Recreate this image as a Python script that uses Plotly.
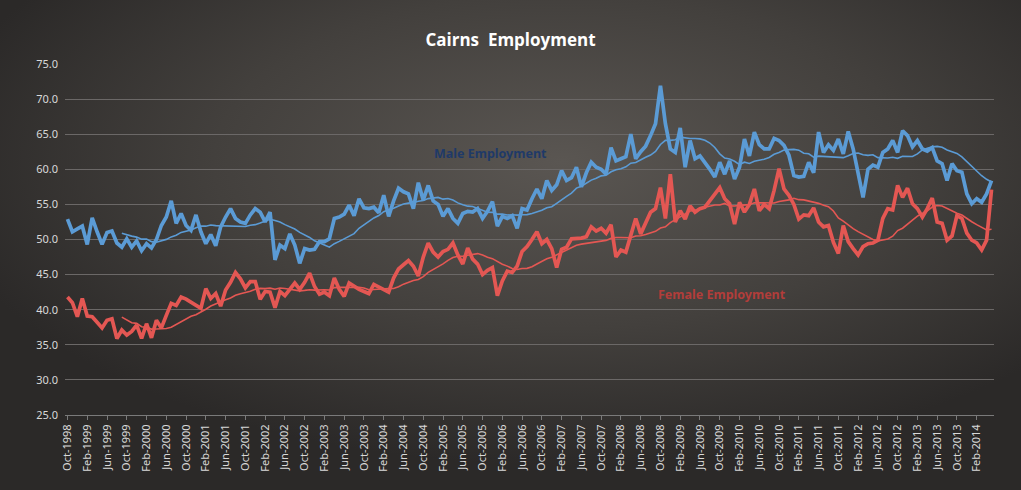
import urllib.parse

import pandas as pd
import plotly.graph_objs as go

# monthly categories, Oct-1998 .. May-2014
months = list(pd.date_range("1998-10-01", periods=188, freq="MS").strftime("%b-%Y"))
tick_labels = months[::4]

# employment values
male = [
    52.9, 51.1, 51.5, 51.9, 49.3, 53.1, 51.1, 49.3, 51.0, 51.2,
    49.5, 48.9, 50.1, 48.9, 49.8, 48.4, 49.4, 48.8, 50.0, 52.0,
    53.2, 55.5, 52.3, 53.7, 52.0, 51.3, 53.5, 51.1, 49.4, 50.7,
    49.1, 51.8, 53.2, 54.4, 53.0, 52.5, 52.3, 53.5, 54.4, 53.9,
    52.5, 53.9, 47.1, 49.2, 48.7, 50.8, 49.2, 46.6, 48.7, 48.5,
    48.6, 49.7, 49.7, 50.1, 53.0, 53.2, 53.6, 54.9, 53.4, 55.8,
    54.5, 54.4, 54.6, 53.8, 56.3, 53.3, 55.5, 57.3, 56.8, 56.5,
    54.4, 58.1, 55.6, 57.7, 55.5, 55.0, 53.3, 54.4, 53.0, 52.3,
    53.7, 54.0, 53.9, 54.4, 53.0, 54.0, 55.4, 51.9, 53.3, 53.0,
    53.4, 51.6, 54.4, 54.2, 55.8, 57.2, 55.8, 58.4, 57.0, 57.8,
    59.8, 58.4, 58.8, 60.3, 57.5, 59.5, 61.0, 60.3, 60.0, 59.3,
    63.1, 61.2, 61.5, 61.8, 65.0, 61.5, 62.5, 63.3, 64.8, 66.5,
    71.9, 66.5, 62.9, 62.4, 65.9, 60.3, 64.1, 61.5, 61.9, 61.0,
    60.0, 58.9, 61.0, 59.3, 61.2, 58.6, 60.3, 64.3, 61.9, 65.3,
    63.5, 62.9, 62.9, 64.4, 64.1, 63.4, 62.0, 59.1, 58.9, 59.0,
    61.0, 59.5, 65.3, 62.4, 63.5, 62.7, 64.3, 62.2, 65.4, 62.9,
    59.6, 56.0, 60.0, 60.6, 60.3, 62.4, 62.9, 64.1, 62.4, 65.5,
    64.8, 63.2, 64.1, 62.9, 62.6, 63.1, 61.2, 60.8, 58.4, 60.8,
    59.8, 59.6, 56.5, 55.1, 55.8, 55.3, 56.5, 58.4,
]
female = [
    41.8, 41.0, 39.0, 41.6, 39.1, 39.0, 38.2, 37.4, 38.5, 38.7,
    35.9, 37.1, 36.4, 36.9, 37.8, 35.9, 38.0, 36.0, 38.5, 37.4,
    39.2, 40.9, 40.6, 41.8, 41.5, 41.1, 40.6, 40.2, 43.0, 41.6,
    42.3, 40.5, 42.8, 43.9, 45.3, 44.4, 43.1, 44.0, 44.0, 41.5,
    42.6, 42.5, 40.3, 42.6, 42.0, 42.9, 43.8, 42.9, 43.9, 45.2,
    43.3, 42.2, 42.5, 42.0, 44.5, 42.9, 41.9, 43.8, 43.3, 42.9,
    42.6, 42.3, 43.6, 43.2, 42.8, 42.5, 44.5, 45.8, 46.4, 47.0,
    46.2, 44.8, 47.5, 49.5, 48.2, 47.5, 48.3, 48.6, 49.5, 47.8,
    46.5, 48.8, 47.2, 46.5, 45.0, 45.6, 46.0, 42.0, 44.1, 45.5,
    45.3, 46.2, 48.3, 49.0, 50.0, 51.1, 49.4, 50.0, 48.7, 46.0,
    48.6, 48.9, 50.1, 50.1, 50.2, 50.4, 51.8, 51.2, 51.6, 50.9,
    52.1, 47.5, 48.5, 48.2, 50.5, 53.0, 50.8, 52.5, 53.9, 54.4,
    57.4, 53.0, 59.3, 52.5, 54.1, 52.9, 54.8, 53.9, 54.4, 54.6,
    55.5, 56.5, 57.4, 55.8, 55.1, 52.2, 55.3, 53.9, 55.0, 57.2,
    54.1, 55.0, 54.4, 57.0, 60.1, 57.2, 56.3, 55.0, 52.9, 53.5,
    53.4, 54.5, 52.5, 51.8, 52.0, 49.6, 48.0, 52.0, 49.7, 48.7,
    47.8, 49.0, 49.4, 49.5, 49.9, 53.0, 54.4, 54.2, 57.7, 56.0,
    57.3, 55.1, 54.4, 53.2, 54.4, 55.9, 52.5, 52.3, 49.9, 50.5,
    53.4, 53.0, 50.9, 49.9, 49.5, 48.5, 49.9, 57.1,
]

# 12 month moving average trendlines
male_ma = pd.Series(male).rolling(12).mean()
female_ma = pd.Series(female).rolling(12).mean()

blue = "#5b9bd5"
red = "#e45753"

fig = go.Figure()
fig.add_trace(go.Scatter(x=months, y=male, mode="lines", line=dict(color=blue, width=3.7)))
fig.add_trace(go.Scatter(x=months, y=male_ma, mode="lines", line=dict(color=blue, width=1.6)))
fig.add_trace(go.Scatter(x=months, y=female, mode="lines", line=dict(color=red, width=3.7)))
fig.add_trace(go.Scatter(x=months, y=female_ma, mode="lines", line=dict(color=red, width=1.6)))

# dark radial background like the spreadsheet theme
svg = ("<svg xmlns='http://www.w3.org/2000/svg' width='1021' height='490' preserveAspectRatio='none'>"
       "<defs><radialGradient id='g' cx='0.55' cy='0.33' r='0.62'>"
       "<stop offset='0' stop-color='#5a5652'/><stop offset='0.55' stop-color='#43403d'/>"
       "<stop offset='1' stop-color='#2b2928'/></radialGradient></defs>"
       "<rect width='1021' height='490' fill='url(#g)'/></svg>")
bg = "data:image/svg+xml;charset=utf-8," + urllib.parse.quote(svg)

L, R, T, B = 65, 27, 64, 75
pw = 1021 - L - R
ph = 490 - T - B


def px(x, y):
    # pixel position in the window -> paper coords
    return (x - L) / pw, 1 - (y - T) / ph


mx, my = px(490, 153)
fx, fy = px(722, 294)

fig.update_layout(
    width=1021, height=490,
    margin=dict(l=L, r=R, t=T, b=B),
    paper_bgcolor="#3a3836",
    plot_bgcolor="rgba(0,0,0,0)",
    showlegend=False,
    font=dict(family="Noto Sans", color="#d9d9d9", size=11),
    title=dict(text="<b>Cairns  Employment</b>", x=0.5, xanchor="center",
               y=1 - 40 / 490, yanchor="middle", yref="container",
               font=dict(family="Open Sans", size=17, color="#ffffff")),
    images=[dict(source=bg, xref="paper", yref="paper", x=-L / pw, y=1 + T / ph,
                 sizex=1021 / pw, sizey=490 / ph, sizing="stretch", layer="below")],
    annotations=[
        dict(text="<b>Male Employment</b>", x=mx, y=my, xref="paper", yref="paper",
             xanchor="center", yanchor="middle", showarrow=False,
             font=dict(color="#1f3a68", size=12.5)),
        dict(text="<b>Female Employment</b>", x=fx, y=fy, xref="paper", yref="paper",
             xanchor="center", yanchor="middle", showarrow=False,
             font=dict(color="#b23d3a", size=12.5)),
    ],
)

fig.update_xaxes(type="category", tickmode="array", tickvals=tick_labels, ticktext=tick_labels,
                 tickangle=-90, ticks="outside", ticklen=4, tickcolor="#7a7a7a",
                 showline=True, linecolor="#7a7a7a", showgrid=False, zeroline=False,
                 range=[-0.5, len(months) - 0.5])
fig.update_yaxes(range=[25, 75], dtick=5, tickformat=".1f", showgrid=True,
                 gridcolor="#6b6867", gridwidth=1, zeroline=False, showline=False,
                 ticks="", ticklabelstandoff=6)

fig.write_html("out.html", config={"displayModeBar": False},
               post_script="document.body.style.margin='0';")
